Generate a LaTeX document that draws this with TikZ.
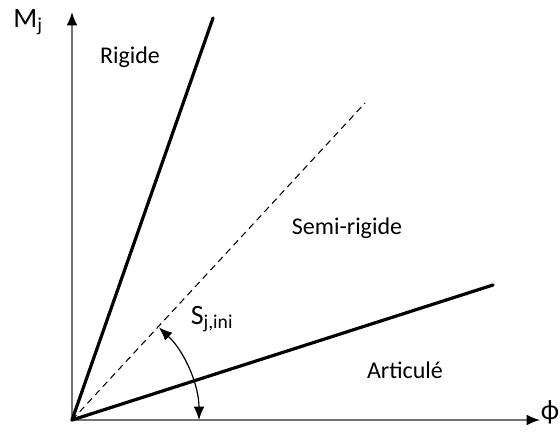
\documentclass[tikz,border=0pt]{standalone}
\usepackage{fontspec}
\setmainfont{Carlito}
\usetikzlibrary{arrows.meta}
\tikzset{
  >=Latex,
  axis/.style={draw=black!55,line width=1.2pt,-{Latex[length=10pt,width=8pt,color=black]}},
  limit/.style={line width=2.4pt,line cap=round},
  label/.style={font=\fontsize{18}{20}\selectfont},
  biglabel/.style={font=\fontsize{21}{24}\selectfont},
}

\begin{document}
\begin{tikzpicture}[x=0.75pt,y=0.75pt]
\useasboundingbox (0,0) rectangle (560,433);
\coordinate (O) at (72,13);
\coordinate (ytop) at (72,421);
\coordinate (xend) at (540,13);
\coordinate (rig) at (213,415);
\coordinate (semi) at (365,330);
\coordinate (art) at (493,148);

\draw[axis] (O) -- (ytop);
\draw[axis] (O) -- (xend);
\draw[limit] (O) -- (rig);
\draw[dashed,line width=0.8pt,dash pattern=on 5pt off 3.5pt] (O) -- (semi);
\draw[limit] (O) -- (art);
\draw[line width=0.9pt,{Latex[length=10pt,width=8pt]}-{Latex[length=10pt,width=8pt]}]
  ([shift={(46.8:127)}]O) arc[start angle=46.8,end angle=0,radius=127];

\node[biglabel] (Mj) at (28,411) {M\textsubscript{j}};
\node[biglabel,inner sep=1pt] (phi) at (550,21) {ϕ};
\node[label] (rigide) at (130,376) {Rigide};
\node[label] (semirigide) at (347,205) {Semi-rigide};
\node[label] (articule) at (405,63) {Articulé};
\node[biglabel] (sjini) at (212,114) {S\textsubscript{j,ini}};
\end{tikzpicture}
\end{document}
